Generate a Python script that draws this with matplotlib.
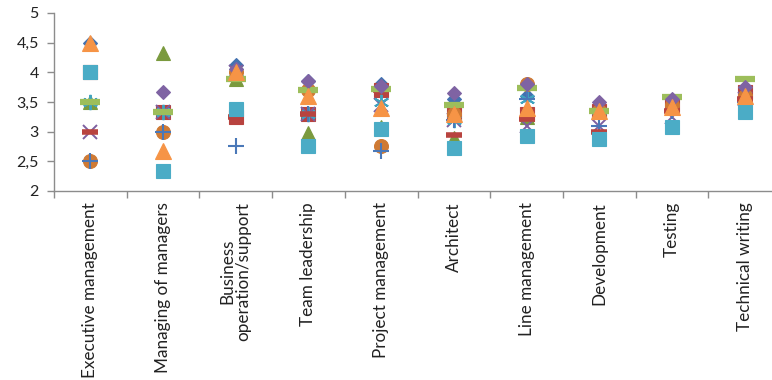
import matplotlib
matplotlib.use("Agg")
import matplotlib.pyplot as plt
import numpy as np

categories = ["Executive management", "Managing of managers", "Business\noperation/support",
              "Team leadership", "Project management", "Architect", "Line management",
              "Development", "Testing", "Technical writing"]

s01_diamond = [4.50, 3.33, 4.12, 3.85, 3.80, 3.55, 3.60, 3.35, 3.45, 3.70]
s02_square = [4.00, 3.33, 3.25, 3.30, 3.70, 3.30, 3.30, 3.35, 3.45, 3.67]
s03_triangle = [3.50, 4.33, 3.88, 2.97, 3.08, 2.90, 3.25, 3.35, 3.45, 3.60]
s04_x = [3.00, 3.33, 4.00, 3.30, 3.45, 3.20, 3.10, 3.10, 3.25, 3.55]
s05_star = [3.50, 3.33, 4.00, 3.30, 3.50, 3.20, 3.55, 3.35, 3.40, 3.55]
s06_circle = [2.50, 3.00, 4.00, 3.70, 2.75, 3.30, 3.80, 3.35, 3.45, 3.60]
s07_plus = [2.50, 3.00, 2.75, 3.30, 2.67, 3.20, 3.55, 3.10, 3.35, 3.50]
s08_dash = [3.00, 3.33, 3.25, 3.30, 3.70, 2.95, 3.22, 3.00, 3.35, 3.55]
s09_longdash = [3.50, 3.33, 3.88, 3.70, 3.72, 3.45, 3.73, 3.35, 3.58, 3.88]
s10_diamond = [4.00, 3.67, 4.05, 3.85, 3.77, 3.65, 3.80, 3.50, 3.55, 3.75]
s11_square = [4.00, 2.33, 3.38, 2.75, 3.05, 2.73, 2.92, 2.88, 3.08, 3.33]
s12_triangle = [4.50, 2.67, 4.00, 3.60, 3.40, 3.30, 3.40, 3.35, 3.42, 3.60]

y_ticks = [2, 2.5, 3, 3.5, 4, 4.5, 5]
y_tick_labels = ["2", "2,5", "3", "3,5", "4", "4,5", "5"]

plt.rcParams['font.family'] = ['Lato', 'DejaVu Sans']

fig = plt.figure(figsize=(7.72, 3.80), dpi=100)
ax = fig.add_axes([54 / 772, 189 / 380, 727 / 772, 178 / 380])

x = np.arange(len(categories))

# marker definitions: (values, marker, colour, size, edge width)
series = [
    (s01_diamond, "D", "#4372B0", 7.0, 0.8),
    (s02_square, "s", "#B8433F", 9.5, 0.8),
    (s03_triangle, "^", "#7A9A3E", 10.5, 0.8),
    (s04_x, "x", "#7D5FA0", 9.5, 1.4),
    (s05_star, (6, 2, 0), "#3FA3C0", 11, 1.4),
    (s06_circle, "o", "#CF7A34", 10, 0.8),
    (s07_plus, "+", "#4A78B8", 11, 1.5),
    (s08_dash, "_", "#B8433F", 11, 4.0),
    (s09_longdash, "_", "#9DBE5B", 14, 4.5),
    (s10_diamond, "D", "#7F63A3", 7.0, 0.8),
    (s11_square, "s", "#4BACC6", 10, 0.8),
    (s12_triangle, "^", "#F69446", 11, 0.8),
]

for vals, mk, col, ms, mew in series:
    if mk in ("x", "+", "_") or isinstance(mk, tuple):
        ax.plot(x, vals, linestyle="none", marker=mk, markersize=ms,
                color=col, markeredgewidth=mew, clip_on=False)
    else:
        ax.plot(x, vals, linestyle="none", marker=mk, markersize=ms,
                markerfacecolor=col, markeredgecolor=col, markeredgewidth=mew,
                clip_on=False)

ax.set_xlim(-0.5, len(categories) - 0.5)
ax.set_ylim(2, 5)

ax.set_yticks(y_ticks)
ax.set_yticklabels(y_tick_labels, fontsize=11.5, color="#222222")

# category ticks sit between categories; labels sit at the centres
ax.set_xticks(np.arange(len(categories) + 1) - 0.5)
ax.set_xticklabels([])
ax.set_xticks(x, minor=True)
ax.set_xticklabels(categories, minor=True, rotation=90, fontsize=12.3,
                   color="#222222", va="top", ha="center", linespacing=1.0)
ax.tick_params(axis="x", which="minor", length=0, pad=8)
ax.tick_params(axis="x", which="major", length=5, width=1, color="#8C8C8C", direction="out")
ax.tick_params(axis="y", length=5, width=1, color="#8C8C8C", direction="out", pad=6)

for side in ("top", "right"):
    ax.spines[side].set_visible(False)
for side in ("left", "bottom"):
    ax.spines[side].set_color("#8C8C8C")
    ax.spines[side].set_linewidth(1.0)

fig.savefig("out.png", dpi=100)
